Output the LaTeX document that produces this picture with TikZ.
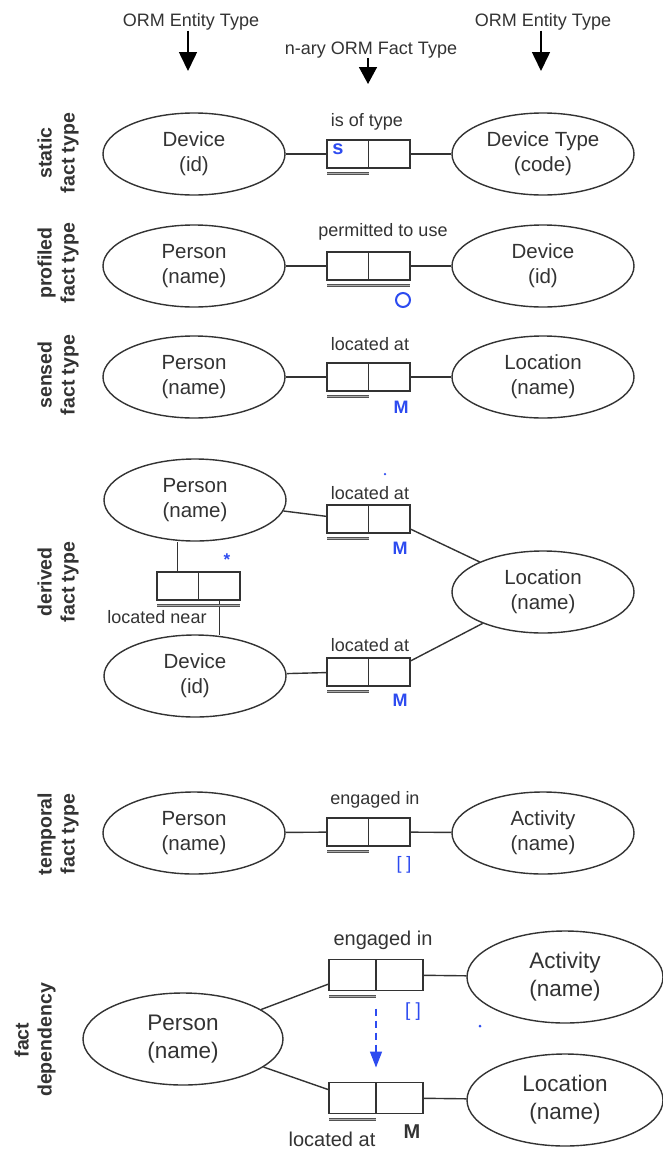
\documentclass[tikz,border=0pt]{standalone}
\usepackage{fontspec}
\setmainfont{Liberation Sans}
\usetikzlibrary{shapes.geometric,arrows.meta,calc}
\definecolor{ink}{HTML}{333333}
\definecolor{mark}{HTML}{2D4BF0}

\begin{document}
\begin{tikzpicture}[x=1pt,y=-1pt,
  ent/.style={ellipse,draw=ink,line width=1.4pt,minimum width=182pt,minimum height=82pt,
    inner sep=0pt,align=center,font=\fontsize{20.5}{25}\selectfont,text=ink},
  bigent/.style={ent,minimum width=200pt,minimum height=92pt,font=\fontsize{22.5}{28}\selectfont},
  role/.style={rectangle,draw=ink,line width=1.4pt,minimum width=41.5pt,minimum height=28pt,
    inner sep=0pt,outer sep=0pt,anchor=west},
  bigrole/.style={role,minimum width=47pt,minimum height=31pt},
  lab/.style={font=\fontsize{18}{22}\selectfont,text=ink,inner sep=0pt},
  biglab/.style={font=\fontsize{20}{24}\selectfont,text=ink,inner sep=0pt},
  rowlab/.style={rotate=90,align=center,font=\fontsize{19.5}{23}\selectfont\bfseries,text=ink,inner sep=0pt},
  link/.style={draw=ink,line width=1.4pt},
  uline/.style={draw=ink!85,line width=1pt,double=white!60!ink,double distance=1pt},
  tarrow/.style={draw=black,line width=1.6pt,-{Triangle[width=18pt,length=19pt]}},
  mk/.style={text=mark,inner sep=0pt,font=\fontsize{18}{18}\selectfont\bfseries},
  brk/.style={text=mark,inner sep=0pt,font=\fontsize{18}{18}\selectfont},
  dot/.style={circle,fill=mark,inner sep=0pt,minimum size=3pt},
  depend/.style={draw=mark,line width=1.6pt,dash pattern=on 7pt off 5pt,-{Triangle[width=12pt,length=16pt]}}
]
\useasboundingbox (0,0) rectangle (663,1151);
\fill[white] (0,0) rectangle (663,1151);

% ---- legend arrows
\node[lab] (t1) at (191,22) {ORM Entity Type};
\coordinate (t1e) at (188,71);
\draw[tarrow] (t1e |- t1.south) -- (t1e);
\node[lab] (t2) at (371,50) {n-ary ORM Fact Type};
\coordinate (t2e) at (368,84);
\draw[tarrow,-{Triangle[width=18pt,length=17pt]}] (t2e |- t2.south) -- (t2e);
\node[lab] (t3) at (543,22) {ORM Entity Type};
\coordinate (t3e) at (541,71);
\draw[tarrow] (t3e |- t3.south) -- (t3e);

% ---- static fact type
\node[rowlab] (k1) at (58,153) {static\\fact type};
\node[ent] (e1l) at (194,154) {Device\\(id)};
\node[ent] (e1r) at (543,154) {Device Type\\(code)};
\node[role] (r1a) at (327,154) {};
\node[role] (r1b) at (r1a.east) {};
\node[lab] (l1) at (367,122) {is of type};
\draw[link] (e1l) -- (r1a);
\draw[link] (r1b) -- (e1r);
\draw[uline] ($(r1a.south west)+(0,5)$) -- ($(r1a.south east)+(0,5)$);
\node[mk,font=\fontsize{20}{20}\selectfont\bfseries] (s1) at (338,149) {s};

% ---- profiled fact type
\node[rowlab] (k2) at (58,263) {profiled\\fact type};
\node[ent] (e2l) at (194,266) {Person\\(name)};
\node[ent] (e2r) at (543,266) {Device\\(id)};
\node[role] (r2a) at (327,266) {};
\node[role] (r2b) at (r2a.east) {};
\node[lab] (l2) at (383,232) {permitted to use};
\draw[link] (e2l) -- (r2a);
\draw[link] (r2b) -- (e2r);
\draw[uline] ($(r2a.south west)+(0,5)$) -- ($(r2b.south east)+(0,5)$);
\node[circle,draw=mark,line width=2pt,minimum size=14pt,inner sep=0pt] (o2) at (403,300) {};

% ---- sensed fact type
\node[rowlab] (k3) at (58,375) {sensed\\fact type};
\node[ent] (e3l) at (194,377) {Person\\(name)};
\node[ent] (e3r) at (543,377) {Location\\(name)};
\node[role] (r3a) at (327,377) {};
\node[role] (r3b) at (r3a.east) {};
\node[lab] (l3) at (370,344) {located at};
\draw[link] (e3l) -- (r3a);
\draw[link] (r3b) -- (e3r);
\draw[uline] ($(r3a.south west)+(0,5)$) -- ($(r3a.south east)+(0,5)$);
\node[mk] (m3) at (401,407) {M};

% ---- derived fact type
\node[rowlab] (k4) at (58,582) {derived\\fact type};
\node[ent] (p4) at (195,500) {Person\\(name)};
\node[ent] (d4) at (195,676) {Device\\(id)};
\node[ent] (loc4) at (543,592) {Location\\(name)};
\node[role] (r4a) at (327,519) {};
\node[role] (r4b) at (r4a.east) {};
\node[lab] (l4a) at (370,493) {located at};
\node[role] (r5a) at (327,672) {};
\node[role] (r5b) at (r5a.east) {};
\node[lab] (l5a) at (370,645) {located at};
\draw[link] (p4) -- (r4a);
\draw[link] (r4b) -- (loc4);
\draw[link] (d4) -- (r5a);
\draw[link] (r5b) -- (loc4);
\draw[uline] ($(r4a.south west)+(0,5)$) -- ($(r4a.south east)+(0,5)$);
\draw[uline] ($(r5a.south west)+(0,5)$) -- ($(r5a.south east)+(0,5)$);
\node[mk] (m4) at (400,548) {M};
\node[mk] (m5) at (400,700) {M};
\node[dot,minimum size=2.5pt] (dd4) at (385,474) {};
% located near
\node[role] (n4a) at (157,586) {};
\node[role] (n4b) at (n4a.east) {};
\node[lab] (ln4) at (157,617) {located near};
\draw[link] (n4a.north) -- (n4a.north |- p4.south);
\draw[link] (n4b.south) -- ($(n4b.south |- d4.north)+(0,1)$);
\draw[uline] ($(n4a.south west)+(0,5)$) -- ($(n4b.south east)+(0,5)$);
\node[mk,font=\fontsize{17}{17}\selectfont\bfseries] (st4) at (227,560) {*};

% ---- temporal fact type
\node[rowlab] (k6) at (58,834) {temporal\\fact type};
\node[ent] (e6l) at (194,833) {Person\\(name)};
\node[ent] (e6r) at (543,833) {Activity\\(name)};
\node[role] (r6a) at (327,832) {};
\node[role] (r6b) at (r6a.east) {};
\node[lab] (l6) at (375,800) {engaged in};
\draw[link] (e6l) -- (r6a);
\draw[link] (r6b) -- (e6r);
\draw[uline] ($(r6a.south west)+(0,5)$) -- ($(r6a.south east)+(0,5)$);
\node[brk] (b6) at (404,865) {[ ]};

% ---- fact dependency
\node[rowlab] (k7) at (35,1040) {fact\\dependency};
\node[bigent] (p7) at (183,1039) {Person\\(name)};
\node[bigent,minimum width=196pt] (a7) at (565,977) {Activity\\(name)};
\node[bigent,minimum width=196pt] (loc7) at (565,1100) {Location\\(name)};
\node[bigrole] (r7a) at (329,975) {};
\node[bigrole] (r7b) at (r7a.east) {};
\node[biglab] (l7a) at (383,940) {engaged in};
\node[bigrole] (r8a) at (329,1098) {};
\node[bigrole] (r8b) at (r8a.east) {};
\node[biglab] (l8a) at (332,1139) {located at};
\draw[link] (p7) -- (r7a);
\draw[link] (r7b) -- (a7);
\draw[link] (p7) -- (r8a);
\draw[link] (r8b) -- (loc7);
\draw[uline] ($(r7a.south west)+(0,6)$) -- ($(r7a.south east)+(0,6)$);
\draw[uline] ($(r8a.south west)+(0,6)$) -- ($(r8a.south east)+(0,6)$);
\node[brk,font=\fontsize{19}{19}\selectfont] (b7) at (413,1012) {[ ]};
\node[mk,text=ink,font=\fontsize{20}{20}\selectfont\bfseries] (m8) at (412,1132) {M};
\node[dot] (dd7) at (480,1026) {};
\draw[depend] ($(r7a.south east)+(0,18)$) -- ($(r8a.north east)+(0,-15)$);
\end{tikzpicture}
\end{document}
